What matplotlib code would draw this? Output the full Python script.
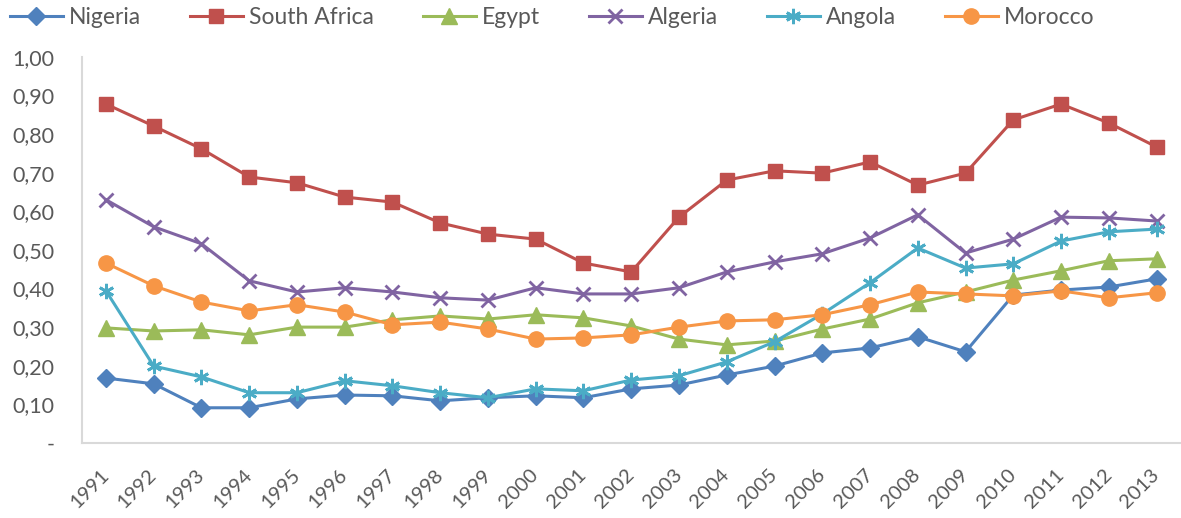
import matplotlib
matplotlib.use('Agg')
import matplotlib.pyplot as plt
import numpy as np

plt.rcParams['font.family'] = ['Lato', 'DejaVu Sans']

years = [str(y) for y in range(1991, 2014)]

nigeria = [0.168, 0.153, 0.091, 0.091, 0.114, 0.124, 0.122, 0.109, 0.117, 0.122, 0.117, 0.140,
           0.150, 0.176, 0.199, 0.233, 0.246, 0.275, 0.236, 0.383, 0.396, 0.404, 0.425]
south_africa = [0.878, 0.821, 0.762, 0.689, 0.674, 0.637, 0.624, 0.570, 0.541, 0.528, 0.466, 0.443,
                0.585, 0.681, 0.705, 0.699, 0.728, 0.668, 0.699, 0.837, 0.878, 0.829, 0.767]
egypt = [0.298, 0.290, 0.293, 0.280, 0.300, 0.300, 0.319, 0.329, 0.321, 0.332, 0.324, 0.303,
         0.269, 0.254, 0.264, 0.295, 0.321, 0.363, 0.391, 0.422, 0.446, 0.472, 0.477]
algeria = [0.630, 0.560, 0.516, 0.420, 0.391, 0.402, 0.391, 0.376, 0.370, 0.402, 0.386, 0.386,
           0.402, 0.443, 0.469, 0.490, 0.531, 0.591, 0.492, 0.528, 0.585, 0.583, 0.575]
angola = [0.394, 0.199, 0.171, 0.130, 0.130, 0.161, 0.148, 0.130, 0.117, 0.140, 0.135, 0.163,
          0.174, 0.210, 0.262, 0.334, 0.415, 0.505, 0.453, 0.464, 0.523, 0.547, 0.554]
morocco = [0.466, 0.407, 0.365, 0.342, 0.358, 0.339, 0.306, 0.313, 0.295, 0.269, 0.272, 0.280,
           0.300, 0.316, 0.319, 0.332, 0.358, 0.391, 0.386, 0.381, 0.394, 0.376, 0.389]

series = [
    ('Nigeria', nigeria, '#4F81BD', 'D', 9),
    ('South Africa', south_africa, '#C0504D', 's', 10),
    ('Egypt', egypt, '#9BBB59', '^', 11),
    ('Algeria', algeria, '#8064A2', 'x', 10),
    ('Angola', angola, '#4BACC6', (6, 2, 0), 11),
    ('Morocco', morocco, '#F79646', 'o', 11),
]

fig = plt.figure(figsize=(11.81, 5.18), dpi=100)
ax = fig.add_axes([0.0695, 0.145, 0.93, 0.745])

x = np.arange(len(years))
for name, vals, col, mk, ms in series:
    ax.plot(x, vals, color=col, lw=2.2, marker=mk, markersize=ms,
            markeredgewidth=2.0 if mk in ('x', (6, 2, 0)) else 1.0,
            markerfacecolor=col, markeredgecolor=col, label=name)

ax.set_xlim(-0.5, len(years) - 0.5)
ax.set_ylim(0, 1.0)
yt = np.round(np.arange(0, 1.01, 0.1), 2)
ax.set_yticks(yt)
ax.set_yticklabels(['-' if v == 0 else f'{v:.2f}'.replace('.', ',') for v in yt])
ax.set_xticks(x)
ax.set_xticklabels(years, rotation=45, ha='right', va='center', rotation_mode='anchor')
ax.tick_params(length=0, colors='#595959')
ax.tick_params(axis='y', labelsize=15.5, pad=20)
ax.tick_params(axis='x', labelsize=14.5, pad=21)

for s in ['top', 'right']:
    ax.spines[s].set_visible(False)
for s in ['left', 'bottom']:
    ax.spines[s].set_color('#D9D9D9')
    ax.spines[s].set_linewidth(1.5)

leg = fig.legend(loc='center left', bbox_to_anchor=(10 / 1181, 0.967), ncol=6, frameon=False,
                 fontsize=16.5, handlelength=2.3, columnspacing=2.15, handletextpad=0.26,
                 borderpad=0, borderaxespad=0)
for t in leg.get_texts():
    t.set_color('#595959')

fig.savefig('out.png', dpi=100)
